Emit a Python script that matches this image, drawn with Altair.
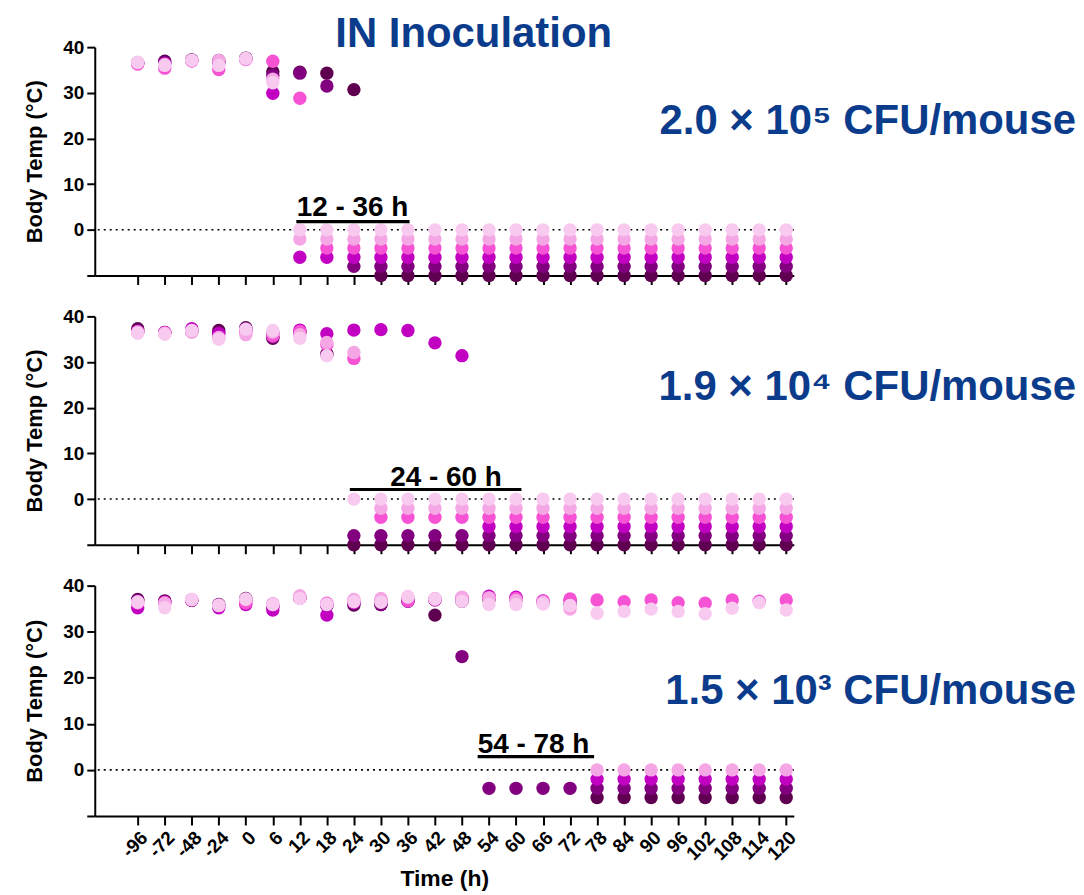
import altair as alt
import pandas as pd

TIME_LABELS = ['-96', '-72', '-48', '-24', '0', '6', '12', '18', '24', '30', '36', '42', '48',
               '54', '60', '66', '72', '78', '84', '90', '96', '102', '108', '114', '120']
MICE = ['m1', 'm2', 'm3', 'm4', 'm5', 'm6']          # darkest -> lightest
COLORS = ['#5E004F', '#820080', '#C200C2', '#F652D4', '#F5A6E4', '#F9CAF0']
BLUE = '#0B3C8C'
N = None  # dead

# ---- Panel 1: 2.0 x 10^5 CFU/mouse
P1_M1 = [36.6, 36.9, 37.2, 37.1, 37.6, 34.6, 34.5, 34.3, 30.7] + [N] * 16
P1_M2 = [36.6, 36.6, 37.1, 36.8, 37.5, 33.8, 34.3, 31.5] + [N] * 17
P1_M3 = [36.5, 36.4, 37.0, 36.5, 37.4, 29.9] + [N] * 19
P1_M4 = [36.3, 35.4, 37.0, 35.1, 37.3, 36.9, 28.8] + [N] * 18
P1_M5 = [36.6, 36.2, 37.1, 37.1, 37.4, 33.0] + [N] * 19
P1_M6 = [36.7, 36.0, 37.1, 36.0, 37.5, 32.2] + [N] * 19
P1_DEAD = [-10, -8, -6, -4, -2, 0]

# ---- Panel 2: 1.9 x 10^4 CFU/mouse
P2_M1 = [37.3, 36.5, 36.8, 36.9, 37.5, 35.2, 36.5, 31.8] + [N] * 17
P2_M2 = [36.8, 36.4, 36.7, 36.4, 37.3, 35.5, 36.6, 31.6] + [N] * 17
P2_M3 = [36.7, 36.5, 37.3, 36.2, 37.0, 36.3, 37.0, 36.2, 37.0, 37.1, 36.9, 34.2, 31.4] + [N] * 12
P2_M4 = [36.5, 36.4, 36.9, 35.3, 36.6, 35.7, 36.7, 33.8, 30.8] + [N] * 16
P2_M5 = [36.6, 36.3, 36.5, 35.4, 36.0, 36.5, 36.0, 34.3, 32.1] + [N] * 16
P2_M6 = [36.3, 36.1, 36.9, 35.0, 37.2, 36.9, 35.2, 31.4] + [N] * 17
P2_DEAD = [-10, -8, -6, -4, -2, 0]

# ---- Panel 3: 1.5 x 10^3 CFU/mouse
P3_M1 = [37.0, 36.7, 36.8, 35.9, 37.2, 35.6, 37.4, 35.8, 35.8, 35.9, 36.8, 33.6, 36.6, 37.0, 37.0, 36.3, 36.0] + [N] * 8
P3_M2 = [36.8, 36.5, 36.8, 35.8, 36.8, 35.4, 37.3, 35.7, 36.2, 35.9, 36.6, 36.9, 24.6] + [N] * 12
P3_M3 = [35.2, 36.4, 36.9, 35.2, 35.9, 34.7, 37.3, 33.6, 36.3, 36.6, 36.7, 37.0, 37.2, 37.7, 37.5, 36.7, 36.8] + [N] * 8
P3_M4 = [36.2, 36.3, 36.9, 35.6, 36.2, 36.0, 37.5, 36.2, 36.7, 36.8, 36.7, 37.0, 37.4, 37.4, 37.2, 36.6, 37.1,
         36.9, 36.5, 36.9, 36.3, 36.2, 36.9, 36.6, 36.9]
P3_M5 = [36.5, 36.2, 37.0, 35.8, 37.0, 35.9, 37.8, 36.0, 37.0, 37.2, 37.6, 37.2, 37.5, 37.3, 36.8, 36.4, 34.9] + [N] * 8
P3_M6 = [36.4, 35.2, 37.0, 35.7, 37.1, 35.9, 37.2, 35.9, 36.5, 36.4, 37.5, 37.1, 36.6, 35.9, 35.9, 36.0, 35.7,
         34.0, 34.4, 34.9, 34.4, 33.9, 35.1, 36.3, 34.7]
P3_DEAD = [-6, -4, -2, None, 0, None]

DOSE_LABELS = ['2.0 × 10⁵ CFU/mouse', '1.9 × 10⁴ CFU/mouse', '1.5 × 10³ CFU/mouse']
WINDOW_TEXT = ['12 - 36 h', '24 - 60 h', '54 - 78 h']
WINDOW_BAR_START = [5.87, 7.85, 12.58]   # x index
WINDOW_BAR_END = [10.06, 14.2, 16.89]
WINDOW_BAR_Y = [1.8, 2.1, 2.9]
WINDOW_TEXT_X = [7.95, 11.41, 12.58]
WINDOW_TEXT_Y = [3.0, 2.8, 3.6]
WINDOW_TEXT_ALIGN = ['center', 'center', 'left']

W = 701
HEIGHTS = [229, 229, 231]
FONT = 'Liberation Sans'


def build_df(series, dead):
    rows = []
    for m, vals in enumerate(series):
        for i, v in enumerate(vals):
            rows.append({'idx': i, 'mouse': MICE[m], 'm': m,
                         'temp': dead[m] if v is None else v})
    return pd.DataFrame(rows)


label_arr = '[' + ','.join("'%s'" % t for t in TIME_LABELS) + ']'


def panel(k, series, dead, bottom, first):
    xs = alt.Scale(domain=[-1.59, 24.28], nice=False, zero=False)
    ys = alt.Scale(domain=[-10, 40], nice=False)
    xa = alt.Axis(values=list(range(25)), labels=bottom, labelExpr=label_arr + '[datum.value]',
                  labelAngle=-45, labelFontSize=19, labelFontWeight='bold', labelPadding=3,
                  labelOverlap=False, labelFlush=False,
                  tickSize=9, title='Time (h)' if bottom else None, titleFontSize=23,
                  titleFontWeight='bold', titlePadding=4, grid=False)
    ya = alt.Axis(values=[-10, 0, 10, 20, 30, 40], labelExpr="datum.value < 0 ? '' : datum.label",
                  labelFontSize=19, labelFontWeight='bold', tickSize=8, labelPadding=3,
                  labelFlush=False, labelOverlap=False,
                  title='Body Temp (°C)', titleFontSize=22, titleFontWeight='bold',
                  titlePadding=16, grid=False)
    df = build_df(series, dead)
    pts = alt.Chart(df).mark_circle(size=180, opacity=1).encode(
        x=alt.X('idx:Q', scale=xs, axis=xa),
        y=alt.Y('temp:Q', scale=ys, axis=ya),
        color=alt.Color('mouse:N', scale=alt.Scale(domain=MICE, range=COLORS), legend=None),
        order=alt.Order('m:Q'),
    )
    zero = alt.Chart(pd.DataFrame({'temp': [0]})).mark_rule(
        color='black', strokeDash=[2, 4], strokeWidth=1.6).encode(
        y=alt.Y('temp:Q', scale=ys, axis=ya))
    bar_df = pd.DataFrame({'idx': [WINDOW_BAR_START[k]], 'x2': [WINDOW_BAR_END[k]],
                           'temp': [WINDOW_BAR_Y[k]]})
    bar = alt.Chart(bar_df).mark_rule(color='black', strokeWidth=3.2).encode(
        x=alt.X('idx:Q', scale=xs, axis=xa), x2='x2:Q',
        y=alt.Y('temp:Q', scale=ys, axis=ya))
    txt_df = pd.DataFrame({'idx': [WINDOW_TEXT_X[k]], 'temp': [WINDOW_TEXT_Y[k]],
                           'label': [WINDOW_TEXT[k]]})
    txt = alt.Chart(txt_df).mark_text(
        font=FONT, fontSize=28, fontWeight='bold', color='black',
        align=WINDOW_TEXT_ALIGN[k], baseline='alphabetic').encode(
        x=alt.X('idx:Q', scale=xs, axis=xa),
        y=alt.Y('temp:Q', scale=ys, axis=ya), text='label:N')
    dose_df = pd.DataFrame({'label': [DOSE_LABELS[k]]})
    dose_y = [87, 84, 119][k]
    dose = alt.Chart(dose_df).mark_text(
        font=FONT, fontSize=42, fontWeight='bold', color=BLUE,
        align='right', baseline='alphabetic').encode(
        x=alt.value(984), y=alt.value(dose_y), text='label:N')
    layers = [zero, pts, bar, txt, dose]
    if first:
        ttl = alt.Chart(pd.DataFrame({'label': ['IN Inoculation']})).mark_text(
            font=FONT, fontSize=42, fontWeight='bold', color=BLUE,
            align='center', baseline='alphabetic').encode(
            x=alt.value(380), y=alt.value(0), text='label:N')
        layers.append(ttl)
    return alt.layer(*layers).properties(width=W, height=HEIGHTS[k])


p1 = panel(0, [P1_M1, P1_M2, P1_M3, P1_M4, P1_M5, P1_M6], P1_DEAD, False, True)
p2 = panel(1, [P2_M1, P2_M2, P2_M3, P2_M4, P2_M5, P2_M6], P2_DEAD, False, False)
p3 = panel(2, [P3_M1, P3_M2, P3_M3, P3_M4, P3_M5, P3_M6], P3_DEAD, True, False)

chart = alt.vconcat(p1, p2, p3, spacing=41, bounds='flush').properties(
    padding={'left': 15, 'top': 4, 'right': 0, 'bottom': 4}
).configure(font=FONT).configure_view(stroke=None).configure_axis(
    domainColor='black', domainWidth=2, tickColor='black', tickWidth=2,
    labelColor='black', titleColor='black', labelFont=FONT, titleFont=FONT)

chart.save('out.html', embed_options={'renderer': 'svg', 'actions': False})
